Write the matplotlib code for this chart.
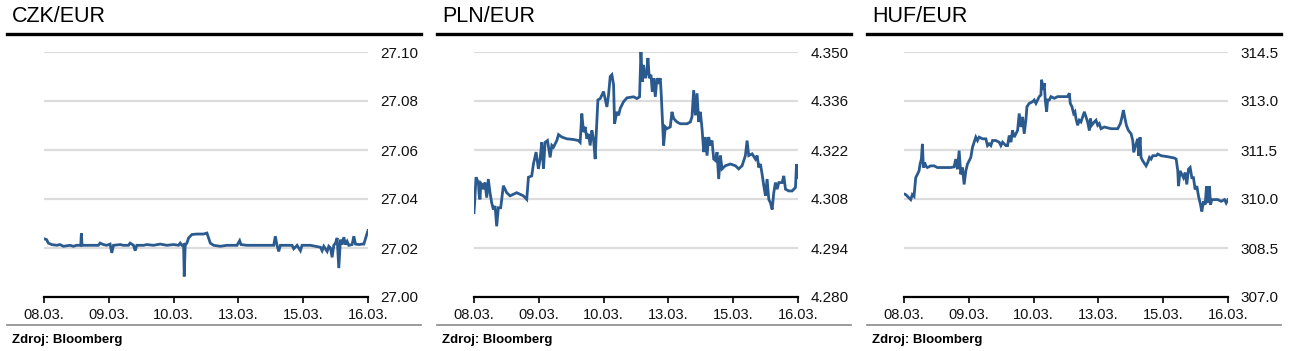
import numpy as np
import matplotlib
matplotlib.use("Agg")
import matplotlib.pyplot as plt
from matplotlib.lines import Line2D

plt.rcParams['font.family'] = ['Liberation Sans', 'DejaVu Sans']

day_labels = ["08.03.", "09.03.", "10.03.", "13.03.", "15.03.", "16.03."]

# (day index, rate)
czk_pts = [(0.000, 27.0238), (0.041, 27.0234), (0.067, 27.0220), (0.119, 27.0214), (0.196, 27.0211),
           (0.247, 27.0214), (0.299, 27.0207), (0.402, 27.0211), (0.453, 27.0207), (0.505, 27.0211),
           (0.567, 27.0211), (0.577, 27.0261), (0.587, 27.0211), (0.659, 27.0211), (0.840, 27.0211),
           (0.866, 27.0220), (0.917, 27.0214), (0.969, 27.0211), (1.020, 27.0216), (1.046, 27.0180),
           (1.072, 27.0211), (1.175, 27.0214), (1.226, 27.0211), (1.304, 27.0211), (1.329, 27.0220),
           (1.381, 27.0211), (1.407, 27.0189), (1.432, 27.0211), (1.535, 27.0211), (1.587, 27.0214),
           (1.690, 27.0211), (1.793, 27.0216), (1.896, 27.0211), (1.999, 27.0214), (2.076, 27.0211),
           (2.102, 27.0220), (2.128, 27.0211), (2.154, 27.0214), (2.164, 27.0084), (2.179, 27.0211),
           (2.205, 27.0220), (2.231, 27.0241), (2.282, 27.0255), (2.360, 27.0257), (2.463, 27.0257),
           (2.514, 27.0261), (2.540, 27.0241), (2.566, 27.0220), (2.617, 27.0211), (2.720, 27.0207),
           (2.823, 27.0211), (2.978, 27.0211), (3.019, 27.0230), (3.040, 27.0214), (3.132, 27.0211),
           (3.339, 27.0211), (3.545, 27.0211), (3.570, 27.0248), (3.596, 27.0211), (3.622, 27.0186),
           (3.648, 27.0211), (3.751, 27.0211), (3.828, 27.0211), (3.854, 27.0197), (3.906, 27.0211),
           (3.957, 27.0189), (3.983, 27.0211), (4.112, 27.0211), (4.266, 27.0203), (4.292, 27.0189),
           (4.318, 27.0207), (4.369, 27.0186), (4.395, 27.0207), (4.421, 27.0200), (4.446, 27.0162),
           (4.472, 27.0211), (4.498, 27.0220), (4.524, 27.0241), (4.549, 27.0118), (4.575, 27.0234),
           (4.601, 27.0214), (4.627, 27.0244), (4.652, 27.0214), (4.678, 27.0227), (4.704, 27.0211),
           (4.755, 27.0214), (4.781, 27.0248), (4.807, 27.0216), (4.858, 27.0214), (4.910, 27.0216),
           (4.936, 27.0216), (4.987, 27.0261), (5.000, 27.0271)]

pln_pts = [(0.000, 4.3041), (0.010, 4.3070), (0.031, 4.3142), (0.067, 4.3127), (0.080, 4.3090),
           (0.093, 4.3079), (0.105, 4.3125), (0.119, 4.3122), (0.144, 4.3108), (0.170, 4.3127),
           (0.196, 4.3084), (0.221, 4.3137), (0.247, 4.3098), (0.273, 4.3069), (0.299, 4.3050),
           (0.325, 4.3060), (0.350, 4.3002), (0.376, 4.3055), (0.412, 4.3055), (0.453, 4.3118),
           (0.479, 4.3108), (0.505, 4.3098), (0.556, 4.3089), (0.659, 4.3098), (0.762, 4.3089),
           (0.814, 4.3079), (0.840, 4.3142), (0.891, 4.3146), (0.917, 4.3180), (0.958, 4.3214),
           (0.994, 4.3166), (1.020, 4.3194), (1.046, 4.3242), (1.072, 4.3166), (1.097, 4.3242),
           (1.134, 4.3247), (1.175, 4.3199), (1.201, 4.3233), (1.226, 4.3228), (1.278, 4.3247),
           (1.304, 4.3264), (1.355, 4.3257), (1.432, 4.3252), (1.535, 4.3250), (1.612, 4.3247),
           (1.638, 4.3242), (1.664, 4.3324), (1.690, 4.3271), (1.716, 4.3286), (1.742, 4.3252),
           (1.767, 4.3266), (1.793, 4.3233), (1.819, 4.3276), (1.844, 4.3252), (1.870, 4.3194),
           (1.886, 4.3264), (1.912, 4.3363), (1.948, 4.3367), (1.973, 4.3377), (1.999, 4.3387),
           (2.051, 4.3343), (2.076, 4.3377), (2.102, 4.3430), (2.128, 4.3435), (2.154, 4.3406),
           (2.169, 4.3295), (2.205, 4.3329), (2.231, 4.3319), (2.257, 4.3339), (2.308, 4.3358),
           (2.360, 4.3369), (2.463, 4.3372), (2.514, 4.3367), (2.555, 4.3372), (2.576, 4.3502),
           (2.597, 4.3415), (2.617, 4.3463), (2.643, 4.3425), (2.669, 4.3444), (2.684, 4.3483),
           (2.705, 4.3425), (2.731, 4.3435), (2.751, 4.3387), (2.772, 4.3425), (2.798, 4.3372),
           (2.823, 4.3425), (2.849, 4.3415), (2.875, 4.3425), (2.890, 4.3377), (2.911, 4.3290),
           (2.926, 4.3233), (2.952, 4.3286), (2.978, 4.3281), (3.029, 4.3286), (3.055, 4.3329),
           (3.081, 4.3310), (3.132, 4.3300), (3.184, 4.3295), (3.287, 4.3295), (3.338, 4.3300),
           (3.364, 4.3315), (3.390, 4.3391), (3.416, 4.3319), (3.442, 4.3382), (3.467, 4.3300),
           (3.493, 4.3329), (3.519, 4.3281), (3.545, 4.3214), (3.570, 4.3257), (3.596, 4.3204),
           (3.622, 4.3257), (3.648, 4.3233), (3.673, 4.3247), (3.699, 4.3194), (3.725, 4.3190),
           (3.751, 4.3214), (3.776, 4.3137), (3.802, 4.3204), (3.828, 4.3166), (3.879, 4.3175),
           (3.957, 4.3180), (4.034, 4.3175), (4.085, 4.3166), (4.137, 4.3175), (4.188, 4.3204),
           (4.214, 4.3247), (4.240, 4.3204), (4.292, 4.3209), (4.343, 4.3194), (4.369, 4.3204),
           (4.395, 4.3170), (4.420, 4.3180), (4.446, 4.3151), (4.472, 4.3118), (4.498, 4.3089),
           (4.523, 4.3137), (4.549, 4.3079), (4.575, 4.3069), (4.601, 4.3050), (4.626, 4.3098),
           (4.652, 4.3127), (4.678, 4.3108), (4.704, 4.3127), (4.755, 4.3127), (4.781, 4.3146),
           (4.807, 4.3108), (4.858, 4.3103), (4.910, 4.3103), (4.961, 4.3113), (4.977, 4.3180),
           (4.987, 4.3142), (5.000, 4.3142)]

huf_pts = [(0.000, 310.156), (0.026, 310.136), (0.052, 310.084), (0.078, 310.032), (0.104, 309.981),
           (0.129, 310.136), (0.155, 310.084), (0.181, 310.653), (0.207, 310.756), (0.232, 310.860),
           (0.248, 311.066), (0.268, 311.222), (0.284, 311.687), (0.299, 310.963), (0.320, 311.118),
           (0.335, 311.015), (0.361, 310.963), (0.413, 311.015), (0.464, 311.015), (0.516, 310.963),
           (0.619, 310.963), (0.722, 310.963), (0.773, 310.984), (0.799, 311.222), (0.825, 310.911),
           (0.851, 311.480), (0.876, 310.756), (0.902, 310.963), (0.928, 310.446), (0.954, 310.860),
           (0.979, 311.066), (1.005, 311.170), (1.031, 311.273), (1.057, 311.583), (1.082, 311.739),
           (1.108, 311.894), (1.134, 311.790), (1.160, 311.894), (1.211, 311.842), (1.263, 311.842),
           (1.289, 311.635), (1.314, 311.687), (1.340, 311.635), (1.366, 311.790), (1.417, 311.790),
           (1.469, 311.739), (1.495, 311.635), (1.521, 311.739), (1.572, 311.635), (1.598, 311.635),
           (1.624, 311.945), (1.650, 311.739), (1.675, 312.100), (1.701, 311.894), (1.727, 311.997),
           (1.753, 312.100), (1.778, 312.617), (1.804, 312.204), (1.830, 312.514), (1.855, 311.997),
           (1.881, 312.411), (1.897, 312.824), (1.933, 312.928), (1.984, 312.979), (2.010, 313.031),
           (2.036, 312.928), (2.062, 313.031), (2.087, 313.134), (2.113, 313.186), (2.123, 313.651),
           (2.149, 313.341), (2.164, 313.548), (2.180, 313.031), (2.201, 312.669), (2.216, 313.031),
           (2.242, 313.031), (2.268, 313.134), (2.319, 313.083), (2.371, 313.134), (2.422, 313.134),
           (2.525, 313.134), (2.551, 313.238), (2.566, 312.928), (2.592, 312.824), (2.618, 312.617),
           (2.638, 312.669), (2.654, 312.462), (2.680, 312.256), (2.705, 312.411), (2.731, 312.359),
           (2.757, 312.514), (2.783, 312.669), (2.808, 312.514), (2.834, 312.359), (2.860, 312.100),
           (2.876, 312.462), (2.896, 312.256), (2.937, 312.359), (2.963, 312.411), (2.989, 312.256),
           (3.014, 312.307), (3.040, 312.152), (3.092, 312.204), (3.195, 312.152), (3.298, 312.152),
           (3.339, 312.307), (3.365, 312.514), (3.385, 312.721), (3.411, 312.462), (3.432, 312.256),
           (3.463, 312.100), (3.504, 311.997), (3.530, 311.790), (3.545, 311.428), (3.581, 311.687),
           (3.607, 311.842), (3.622, 311.325), (3.643, 311.894), (3.658, 311.273), (3.684, 311.170),
           (3.736, 311.015), (3.762, 311.118), (3.788, 311.273), (3.813, 311.222), (3.839, 311.325),
           (3.891, 311.325), (3.916, 311.377), (3.968, 311.325), (4.071, 311.294), (4.174, 311.253),
           (4.200, 311.222), (4.225, 310.860), (4.236, 310.394), (4.261, 310.860), (4.287, 310.756),
           (4.313, 310.653), (4.339, 310.808), (4.364, 310.446), (4.390, 310.911), (4.416, 310.963),
           (4.442, 310.653), (4.467, 310.653), (4.493, 310.291), (4.519, 310.394), (4.545, 310.084),
           (4.576, 309.826), (4.596, 309.619), (4.622, 309.929), (4.648, 309.826), (4.668, 310.394),
           (4.689, 309.877), (4.714, 310.394), (4.730, 309.826), (4.750, 309.981), (4.792, 309.981),
           (4.843, 309.981), (4.895, 309.929), (4.946, 309.981), (4.972, 309.877), (5.000, 309.981)]

panels = [
    {'title': "CZK/EUR", 'pts': czk_pts, 'ticks': [27.00, 27.02, 27.04, 27.06, 27.08, 27.10], 'fmt': "{:.2f}"},
    {'title': "PLN/EUR", 'pts': pln_pts, 'ticks': [4.280, 4.294, 4.308, 4.322, 4.336, 4.350], 'fmt': "{:.3f}"},
    {'title': "HUF/EUR", 'pts': huf_pts, 'ticks': [307.0, 308.5, 310.0, 311.5, 313.0, 314.5], 'fmt': "{:.1f}"},
]

W, H = 1301, 351
fig = plt.figure(figsize=(W / 100, H / 100), dpi=100)
line_color = '#2b5a8f'

offsets = [0, 430, 860]
for off, p in zip(offsets, panels):
    left = (off + 44) / W
    ax = fig.add_axes([left, 1 - 297 / H, 324 / W, 245 / H])
    xy = np.array(p['pts'])
    ax.plot(xy[:, 0], xy[:, 1], color=line_color, lw=2.0, solid_joinstyle='miter')
    ax.set_xlim(0, 5)
    ax.set_ylim(p['ticks'][0], p['ticks'][-1])
    ax.set_yticks(p['ticks'])
    ax.set_yticklabels([p['fmt'].format(t) for t in p['ticks']])
    ax.yaxis.tick_right()
    ax.set_xticks(range(len(day_labels)))
    ax.set_xticklabels(day_labels)
    ax.grid(axis='y', color='#dcdcdc', lw=1.6)
    ax.set_axisbelow(True)
    for s in ['top', 'left', 'right']:
        ax.spines[s].set_visible(False)
    ax.spines['bottom'].set_linewidth(1.6)
    ax.spines['bottom'].set_color('black')
    ax.spines['bottom'].set_zorder(3)
    ax.tick_params(axis='y', length=0, pad=9.0, labelsize=11, colors='#111111')
    ax.tick_params(axis='x', length=4, width=1.2, color='black', pad=4, labelsize=10.5, labelcolor='#111111')
    ax.patch.set_visible(False)

    # header, rules and source note
    x0 = (off + 7) / W
    x1 = (off + 421) / W
    fig.text((off + 12) / W, 1 - 22 / H, p['title'], fontsize=15.5, ha='left', va='baseline', color='black')
    fig.add_artist(Line2D([x0, x1], [1 - 33.5 / H] * 2, color='black', lw=2.4))
    fig.add_artist(Line2D([x0, x1], [1 - 325 / H] * 2, color='#8a8a8a', lw=1.2))
    fig.text((off + 12) / W, 1 - 342.5 / H, "Zdroj: Bloomberg", fontsize=9.5, fontweight='bold',
             ha='left', va='baseline', color='black')

fig.savefig("out.png", dpi=100)
